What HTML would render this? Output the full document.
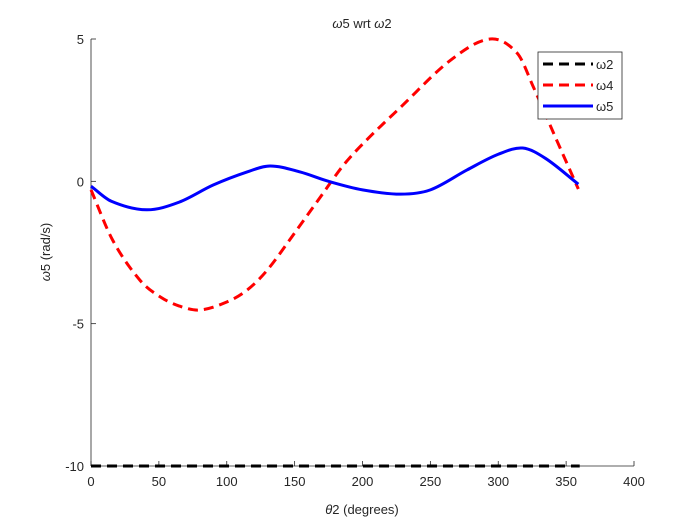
<!DOCTYPE html>
<html><head><meta charset="utf-8"><style>
body{margin:0;background:#fff;}
svg text{font-family:"Liberation Sans",sans-serif;font-size:13px;fill:#262626;}
</style></head><body>
<svg id="chart" width="700" height="525">
<rect width="700" height="525" fill="#fff"/>
<rect x="91" y="39" width="543" height="427" fill="#fff"/>
<g id="axes"></g>
<g id="series"></g>
<text x="362" y="28" text-anchor="middle"><tspan font-style="italic">ω</tspan>5 wrt <tspan font-style="italic">ω</tspan>2</text>
<text x="362" y="514" text-anchor="middle"><tspan font-style="italic">θ</tspan>2 (degrees)</text>
<text transform="translate(50,252) rotate(-90)" text-anchor="middle"><tspan font-style="italic">ω</tspan>5 (rad/s)</text>
<g>
<rect x="538" y="52" width="84" height="67" fill="#fff" stroke="#262626" stroke-width="0.8"/>
<line x1="543" y1="64" x2="593" y2="64" stroke="#000" stroke-width="3" stroke-dasharray="10,6"/>
<text x="596" y="69">ω2</text>
<line x1="543" y1="85" x2="593" y2="85" stroke="#f00" stroke-width="3" stroke-dasharray="10,6"/>
<text x="596" y="90">ω4</text>
<line x1="543" y1="106" x2="593" y2="106" stroke="#00f" stroke-width="3"/>
<text x="596" y="111">ω5</text>
</g>
</svg>
<script>
const xTicks=[0,50,100,150,200,250,300,350,400];
const yTicks=[-10,-5,0,5];
const w2Deg=[0,360];
const w2Vals=[-10,-10];
const w4Deg=[0,16,36,51,65,80,100,115,130,149,169,186,203,228,265,294,314,326,343,359];
const w4Vals=[-0.3,-2.07,-3.47,-4.06,-4.38,-4.52,-4.24,-3.82,-3.11,-1.88,-0.55,0.57,1.45,2.6,4.26,5.0,4.5,3.3,1.45,-0.27];
const w5Deg=[0,15,41,65,90,115,132,154,175,200,228,250,277,300,318,335,359];
const w5Vals=[-0.17,-0.7,-1.0,-0.73,-0.13,0.33,0.54,0.33,0.0,-0.3,-0.45,-0.3,0.4,0.95,1.17,0.8,-0.1];
const NS='http://www.w3.org/2000/svg';
const X=v=>91+(v-0)*543/400;
const Y=v=>466-(v+10)*427/15;
const axes=document.getElementById('axes');
function mk(tag,attrs,parent){const e=document.createElementNS(NS,tag);for(const k in attrs)e.setAttribute(k,attrs[k]);parent.appendChild(e);return e;}
const xa=mk('line',{x1:91,y1:466,x2:634,y2:466,stroke:'#262626','stroke-width':0.8},axes);


const ya=mk('line',{x1:91,y1:39,x2:91,y2:466,stroke:'#262626','stroke-width':0.8},axes);


xTicks.forEach(t=>{
  mk('line',{x1:X(t),y1:466,x2:X(t),y2:461,stroke:'#262626','stroke-width':0.8},axes);
  const tx=mk('text',{x:X(t),y:486,'text-anchor':'middle'},axes);tx.textContent=t;
  
  
});
yTicks.forEach(t=>{
  mk('line',{x1:91,y1:Y(t),x2:96,y2:Y(t),stroke:'#262626','stroke-width':0.8},axes);
  const tx=mk('text',{x:84,y:Y(t)+5,'text-anchor':'end'},axes);tx.textContent=t;
  
  
});
function smooth(xs,ys){
  const n=xs.length;
  const px=xs.map(X), py=ys.map(Y);
  const m=[];
  for(let i=0;i<n;i++){
    if(n<3){m.push((py[n-1]-py[0])/(px[n-1]-px[0]));continue;}
    const a=Math.max(0,i-1), b=Math.min(n-1,i+1);
    m.push((py[b]-py[a])/(px[b]-px[a]));
  }
  let d='M'+px[0]+','+py[0];
  for(let i=0;i<n-1;i++){
    const h=(px[i+1]-px[i])/3;
    d+=' C'+(px[i]+h)+','+(py[i]+m[i]*h)+' '+(px[i+1]-h)+','+(py[i+1]-m[i+1]*h)+' '+px[i+1]+','+py[i+1];
  }
  return d;
}
const sg=document.getElementById('series');
const s2=mk('path',{d:smooth(w2Deg,w2Vals),fill:'none',stroke:'#000','stroke-width':3,'stroke-dasharray':'10,6'},sg);


const s4=mk('path',{d:smooth(w4Deg,w4Vals),fill:'none',stroke:'#f00','stroke-width':3,'stroke-dasharray':'10,6'},sg);


const s5=mk('path',{d:smooth(w5Deg,w5Vals),fill:'none',stroke:'#00f','stroke-width':3},sg);


</script>
</body></html>
